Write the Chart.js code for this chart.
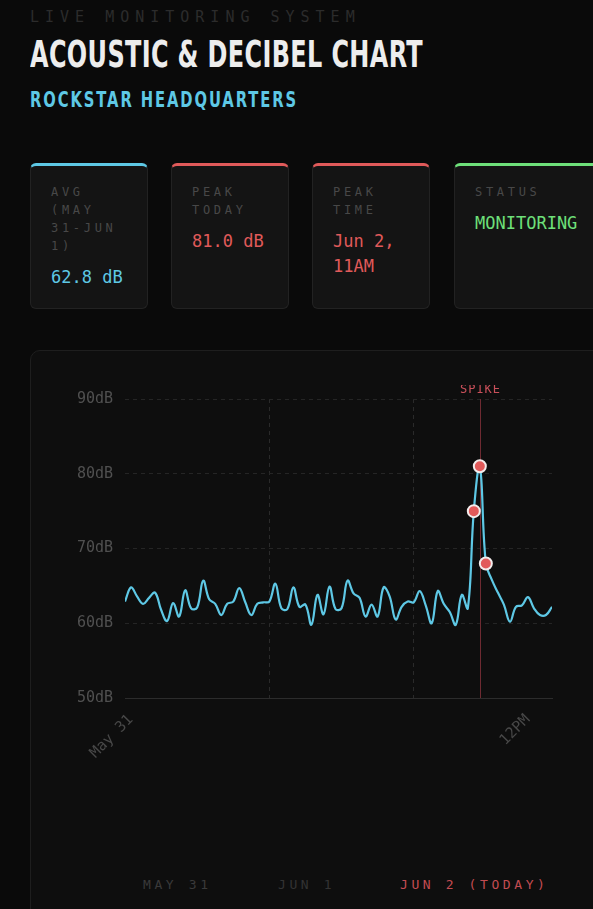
<!DOCTYPE html>
<html>
<head>
<meta charset="utf-8">
<script src="https://cdn.jsdelivr.net/npm/chart.js@4.4.1/dist/chart.umd.min.js"></script>
<style>
  html, body { margin: 0; padding: 0; background: #0a0a0a; }
  body { width: 593px; height: 909px; overflow: hidden; position: relative; font-family: "DejaVu Sans Mono", monospace; }
  .abs { position: absolute; white-space: nowrap; }
  #kicker { left: 30px; top: 10px; font-size: 15px; line-height: 15px; letter-spacing: 6px; color: #2c2c2c; }
  #title { left: 30px; top: 37px; font: bold 36.5px/36.5px "Liberation Sans Narrow", "DejaVu Sans Condensed", sans-serif; color: #ededed; letter-spacing: 0.5px; transform-origin: 0 0; }
  #sub { left: 30px; top: 89px; font: bold 21.4px/21.4px "Liberation Sans Narrow", "DejaVu Sans Condensed", sans-serif; color: #5ec8e5; letter-spacing: 2.5px; transform-origin: 0 0; }
  .card { position: absolute; top: 163px; height: 146px; box-sizing: border-box; background: #141414; border: 1px solid #222; border-top: 3px solid; border-radius: 6px; padding: 17px 20px 0 20px; }
  .lbl { font-size: 12px; line-height: 18px; letter-spacing: 3.7px; color: #484848; white-space: nowrap; }
  .val { font-size: 17px; line-height: 25px; margin-top: 10px; white-space: nowrap; }
  #chartCard { position: absolute; left: 30px; top: 350px; width: 620px; height: 620px; box-sizing: border-box; background: #0e0e0e; border: 1px solid #1e1e1e; border-radius: 10px; }
  #wrap { position: absolute; left: 30px; top: 385px; width: 540px; height: 420px; }
  .leg { position: absolute; top: 878px; font-size: 13px; line-height: 13px; letter-spacing: 3.6px; white-space: nowrap; }
</style>
</head>
<body>
<div id="kicker" class="abs">LIVE MONITORING SYSTEM</div>
<div id="title" class="abs">ACOUSTIC &amp; DECIBEL CHART</div>
<div id="sub" class="abs">ROCKSTAR HEADQUARTERS</div>

<div class="card" style="left:30px;width:118px;border-top-color:#5ec8e5">
  <div class="lbl">AVG<br>(MAY<br>31-JUN<br>1)</div>
  <div class="val" style="color:#5ec8e5">62.8 dB</div>
</div>
<div class="card" style="left:171px;width:118px;border-top-color:#e05a5a">
  <div class="lbl">PEAK<br>TODAY</div>
  <div class="val" style="color:#e05a5a">81.0 dB</div>
</div>
<div class="card" style="left:312px;width:118px;border-top-color:#e05a5a">
  <div class="lbl">PEAK<br>TIME</div>
  <div class="val" style="color:#e05a5a">Jun 2,<br>11AM</div>
</div>
<div class="card" style="left:454px;width:170px;border-top-color:#6ee07a">
  <div class="lbl">STATUS</div>
  <div class="val" style="color:#6ee07a">MONITORING</div>
</div>

<div id="chartCard"></div>
<div id="wrap"><canvas id="dbChart" width="540" height="420"></canvas></div>

<div class="leg" style="left:143px;color:#3a3a3a">MAY 31</div>
<div class="leg" style="left:278px;color:#333333">JUN 1</div>
<div class="leg" style="left:400px;color:#c44c52">JUN 2 (TODAY)</div>

<script>
// hourly readings, May 31 00:00 -> Jun 2 23:00
const levels = [
  62.9, 64.8, 63.6, 62.6, 63.4, 64.1, 61.8, 60.3, 62.7, 60.9, 64.4, 62.0,
  62.1, 65.7, 63.2, 62.6, 61.1, 62.6, 62.9, 64.7, 62.8, 61.1, 62.6, 62.8,
  62.9, 65.3, 62.0, 61.9, 64.8, 62.2, 62.5, 59.8, 63.8, 61.2, 64.9, 61.9,
  62.0, 65.7, 64.0, 63.4, 60.9, 62.5, 60.9, 64.8, 63.6, 60.5, 62.2, 62.9,
  62.8, 64.3, 62.4, 60.0, 64.3, 62.6, 61.5, 59.8, 63.8, 62.0, 75.0, 81.0,
  68.0, 65.8, 64.1, 62.5, 60.2, 62.2, 62.4, 63.5, 62.0, 61.1, 61.1, 62.2
];
const tickHours = [0, 24, 48, 66];
const tickLabels = ['May 31', '', '', '12PM'];
const dayLines = [24, 48];
const spikeHours = [58, 59, 60];
const peakHour = 59;
const yTicks = [50, 60, 70, 80, 90];

function fitWidth(id, w) {
  const el = document.getElementById(id);
  const r = el.getBoundingClientRect().width;
  el.style.transform = 'scaleX(' + (w / r) + ')';
}

const spikeLine = {
  id: 'spikeLine',
  beforeDatasetsDraw(chart) {
    const { ctx, chartArea, scales } = chart;
    const x = Math.round(scales.x.getPixelForValue(peakHour)) + 0.5;
    ctx.save();
    ctx.strokeStyle = '#6e2a31';
    ctx.lineWidth = 1;
    ctx.beginPath();
    ctx.moveTo(x, chartArea.top);
    ctx.lineTo(x, chartArea.bottom);
    ctx.stroke();
    ctx.fillStyle = '#c9505a';
    ctx.font = '12px "DejaVu Sans Mono"';
    ctx.textAlign = 'center';
    ctx.letterSpacing = '1px';
    ctx.fillText('SPIKE', x, chartArea.top - 6);
    ctx.restore();
  }
};

function drawChart() {
  const el = document.getElementById('dbChart');
  if (!el || typeof Chart === 'undefined') return;
  Chart.defaults.font.family = '"DejaVu Sans Mono", monospace';
  new Chart(el.getContext('2d'), {
    type: 'line',
    data: {
      datasets: [{
        data: levels.map((v, i) => ({ x: i, y: v })),
        borderColor: '#5ec8e5',
        borderWidth: 2.2,
        tension: 0.4,
        fill: false,
        pointRadius: c => spikeHours.includes(c.dataIndex) ? 6 : 0,
        pointHoverRadius: c => spikeHours.includes(c.dataIndex) ? 6 : 0,
        pointBackgroundColor: '#e25a5a',
        pointBorderColor: '#f3ecec',
        pointBorderWidth: 2
      }]
    },
    options: {
      responsive: false,
      animation: false,
      layout: { padding: { left: 0, top: 14, right: 18, bottom: 37 } },
      plugins: { legend: { display: false }, tooltip: { enabled: false } },
      scales: {
        x: {
          type: 'linear',
          min: 0,
          max: 71,
          afterBuildTicks: s => { s.ticks = tickHours.map(v => ({ value: v })); },
          afterFit: s => { s.height = 70; },
          grid: {
            drawTicks: false,
            color: c => c.tick && dayLines.includes(c.tick.value) ? '#2a2a2a' : 'transparent'
          },
          border: { display: true, color: '#2c2c2c', width: 1, dash: [4, 4] },
          ticks: {
            autoSkip: false,
            minRotation: 45,
            maxRotation: 45,
            padding: 13,
            labelOffset: 6,
            color: '#484848',
            font: { size: 15 },
            callback: (v, i) => tickLabels[i]
          }
        },
        y: {
          min: 50,
          max: 90,
          afterBuildTicks: s => { s.ticks = yTicks.map(v => ({ value: v })); },
          afterFit: s => { s.width = 95; s.paddingTop = 0; s.paddingBottom = 0; },
          grid: { drawTicks: false, color: '#252525' },
          border: { display: false, dash: [4, 4] },
          ticks: {
            padding: 12,
            color: '#505050',
            font: { size: 15 },
            callback: v => v + 'dB'
          }
        }
      }
    },
    plugins: [spikeLine]
  });
}

document.addEventListener('DOMContentLoaded', function () {
  fitWidth('title', 393);
  fitWidth('sub', 268);
  drawChart();
});
</script>
</body>
</html>
